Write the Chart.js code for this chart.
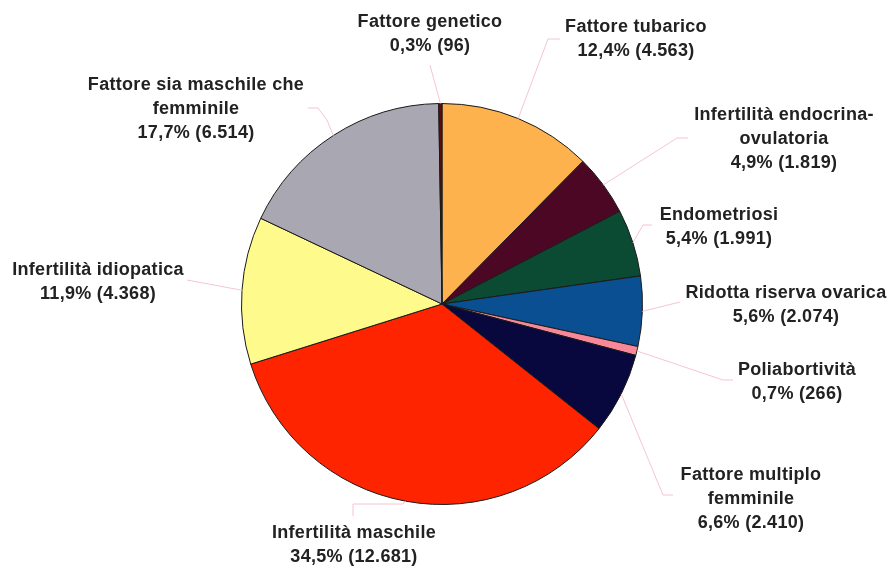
<!DOCTYPE html>
<html>
<head>
<meta charset="utf-8">
<script src="https://cdn.jsdelivr.net/npm/chart.js@4"></script>
<style>
  html, body { margin: 0; padding: 0; background: #fff; }
  #wrap { width: 891px; height: 566px; position: relative; }
</style>
</head>
<body>
<div id="wrap"><canvas id="pieChart"></canvas></div>
<script>
// categories, clockwise from 12 o'clock
let categories = [
    ["Fattore tubarico"],
    ["Infertilità endocrina-", "ovulatoria"],
    ["Endometriosi"],
    ["Ridotta riserva ovarica"],
    ["Poliabortività"],
    ["Fattore multiplo", "femminile"],
    ["Infertilità maschile"],
    ["Infertilità idiopatica"],
    ["Fattore sia maschile che", "femminile"],
    ["Fattore genetico"]
];
let cases = [4563, 1819, 1991, 2074, 266, 2410, 12681, 4368, 6514, 96];
let colors = ["#FDB24E", "#4B0724", "#0B4A33", "#0A4F92", "#F7889A",
              "#08083F", "#FF2400", "#FFFA8C", "#A9A7B2", "#5A0E0E"];

// label layout: centre x, y of first line; leader line points after the slice edge
let labelPos = [
    [636, 27], [784, 115], [719, 215], [786, 293], [797, 370],
    [751, 475], [354, 533], [98, 270], [196, 85], [430, 22]
];
let leaders = [
    [[548, 39], [560, 39]],
    [[677, 138], [688, 138]],
    [[643, 225], [652, 225]],
    [[680, 302]],
    [[723, 380], [733, 380]],
    [[663, 495], [673, 495]],
    [[403, 504], [353, 504], [353, 516]],
    [[187, 280]],
    [[327, 120], [318, 108], [308, 108]],
    [[430, 65]]
];

let total = cases.reduce((s, v) => s + v, 0);

function fmtNum(n) {
    return String(n).replace(/\B(?=(\d{3})+(?!\d))/g, ".");
}
function fmtPct(n) {
    return (n / total * 100).toFixed(1).replace(".", ",") + "%";
}

const labelPlugin = {
    id: "labels",
    afterDatasetsDraw(chart) {
        let ctx = chart.ctx;
        let arcs = chart.getDatasetMeta(0).data;
        ctx.save();
        // leader lines
        ctx.strokeStyle = "#f6c4d4";
        ctx.lineWidth = 1;
        arcs.forEach((arc, i) => {
            let p = arc.getProps(["x", "y", "startAngle", "endAngle", "outerRadius"], true);
            let mid = (p.startAngle + p.endAngle) / 2;
            ctx.beginPath();
            ctx.moveTo(p.x + Math.cos(mid) * p.outerRadius, p.y + Math.sin(mid) * p.outerRadius);
            leaders[i].forEach(pt => ctx.lineTo(pt[0], pt[1]));
            ctx.stroke();
        });
        // texts
        ctx.fillStyle = "#222";
        ctx.font = "bold 18px 'Liberation Sans', Arial, sans-serif";
        ctx.letterSpacing = "0.3px";
        ctx.textAlign = "center";
        ctx.textBaseline = "middle";
        categories.forEach((lines, i) => {
            let all = lines.concat([fmtPct(cases[i]) + " (" + fmtNum(cases[i]) + ")"]);
            all.forEach((t, j) => {
                ctx.fillText(t, labelPos[i][0], labelPos[i][1] + j * 24);
            });
        });
        ctx.restore();
    }
};

let chart = new Chart(document.getElementById("pieChart"), {
    type: "pie",
    data: {
        labels: categories.map(c => c.join(" ")),
        datasets: [{
            data: cases,
            backgroundColor: colors,
            borderColor: "#1a1a1a",
            borderWidth: 1
        }]
    },
    options: {
        responsive: true,
        maintainAspectRatio: false,
        animation: false,
        layout: { padding: { left: 241, right: 248, top: 103, bottom: 61 } },
        plugins: {
            legend: { display: false },
            tooltip: { enabled: false }
        }
    },
    plugins: [labelPlugin]
});
</script>
</body>
</html>
